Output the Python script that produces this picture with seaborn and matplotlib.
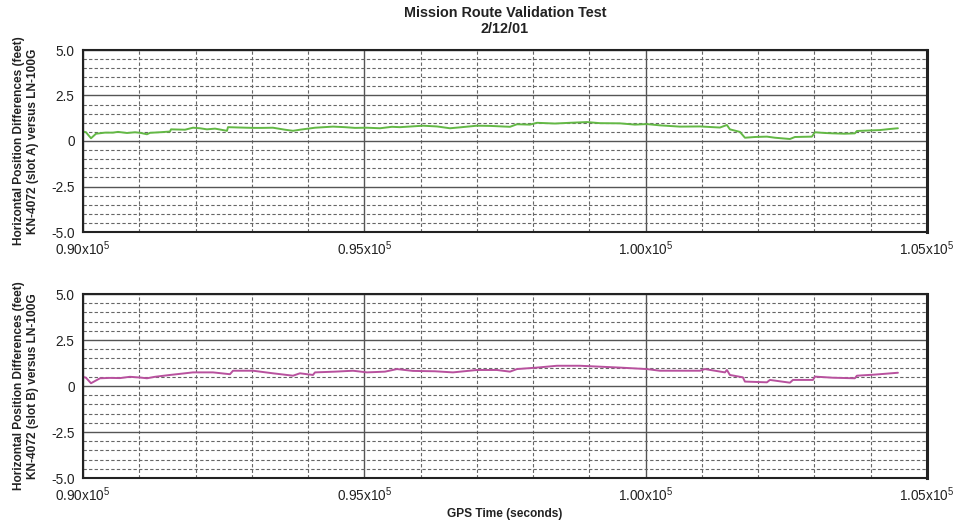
import numpy as np
import pandas as pd
import matplotlib
matplotlib.use("Agg")
import matplotlib.pyplot as plt
from matplotlib.ticker import MultipleLocator, FixedLocator, FuncFormatter
import seaborn as sns

# GPS time (s) and horizontal position difference (ft), KN-4072 slot A vs LN-100G
time_a = [90000, 90053, 90142, 90231, 90391, 90533, 90622, 90782, 90924, 91013,
          91137, 91191, 91368, 91546, 91564, 91813, 91955, 92079, 92203, 92346,
          92559, 92577, 92790, 93021, 93181, 93376, 93590, 93732, 93856, 94123,
          94443, 94656, 94833, 95047, 95278, 95491, 95633, 96042, 96291, 96522,
          96699, 97001, 97232, 97588, 97712, 97943, 98068, 98387, 98654, 98956,
          99187, 99542, 99809, 100022, 100253, 100609, 100964, 101320, 101444, 101497,
          101675, 101764, 101942, 102155, 102297, 102564, 102652, 102954, 103008, 103185,
          103327, 103541, 103718, 103754, 103985, 104163, 104341, 104483]
diff_a = [0.52, 0.48, 0.15, 0.40, 0.46, 0.46, 0.50, 0.44, 0.48, 0.45,
          0.37, 0.45, 0.48, 0.52, 0.64, 0.62, 0.73, 0.70, 0.64, 0.68,
          0.56, 0.76, 0.74, 0.72, 0.72, 0.73, 0.62, 0.56, 0.62, 0.73,
          0.79, 0.76, 0.72, 0.73, 0.70, 0.78, 0.76, 0.84, 0.80, 0.70,
          0.75, 0.84, 0.83, 0.78, 0.92, 0.90, 1.00, 0.96, 1.00, 1.04,
          0.98, 0.97, 0.90, 0.93, 0.86, 0.79, 0.80, 0.74, 0.88, 0.64,
          0.50, 0.18, 0.22, 0.24, 0.18, 0.11, 0.22, 0.24, 0.48, 0.44,
          0.42, 0.40, 0.42, 0.55, 0.58, 0.60, 0.66, 0.70]

# KN-4072 slot B vs LN-100G
time_b = [90000, 90053, 90142, 90302, 90480, 90657, 90835, 91013, 91137, 91279,
          91546, 91724, 91955, 92310, 92612, 92666, 93021, 93376, 93732, 93856,
          94087, 94123, 94478, 94798, 95047, 95367, 95580, 95864, 96255, 96575,
          97001, 97357, 97588, 97712, 98068, 98423, 98832, 99187, 99542, 100022,
          100253, 100964, 101053, 101409, 101444, 101497, 101728, 101764, 102155, 102208,
          102564, 102617, 102972, 103008, 103327, 103718, 103754, 104074, 104483]
diff_b = [0.50, 0.45, 0.15, 0.42, 0.44, 0.43, 0.50, 0.46, 0.42, 0.50,
          0.60, 0.66, 0.74, 0.74, 0.64, 0.83, 0.83, 0.69, 0.56, 0.69,
          0.60, 0.74, 0.78, 0.83, 0.74, 0.78, 0.92, 0.82, 0.80, 0.74,
          0.87, 0.87, 0.78, 0.92, 1.00, 1.10, 1.10, 1.05, 1.00, 0.92,
          0.83, 0.83, 0.92, 0.74, 0.87, 0.60, 0.47, 0.24, 0.20, 0.33,
          0.18, 0.33, 0.33, 0.51, 0.45, 0.42, 0.56, 0.62, 0.72]

x_ticks = [90000, 95000, 100000, 105000]
x_tick_labels = ["0.90", "0.95", "1.00", "1.05"]
y_ticks = [-5.0, -2.5, 0.0, 2.5, 5.0]
y_tick_labels = ["-5.0", "-2.5", "0", "2.5", "5.0"]

title_text = "Mission Route Validation Test\n2/12/01"
ylabel_a = "Horizontal Position Differences (feet)\nKN-4072 (slot A) versus LN-100G"
ylabel_b = "Horizontal Position Differences (feet)\nKN-4072 (slot B) versus LN-100G"
xlabel_text = "GPS Time (seconds)"

sns.set_theme(style="white")
plt.rcParams["font.family"] = ["Liberation Sans", "DejaVu Sans"]
plt.rcParams["mathtext.fontset"] = "custom"
plt.rcParams["mathtext.rm"] = "Liberation Sans"

fig = plt.figure(figsize=(9.61, 5.23), dpi=100)
W, H = 961, 523
left, right = 83, 927
ax_a = fig.add_axes([left / W, 1 - 232 / H, (right - left) / W, (232 - 50) / H])
ax_b = fig.add_axes([left / W, 1 - 478 / H, (right - left) / W, (478 - 294) / H])

df_a = pd.DataFrame({"t": time_a, "d": diff_a})
df_b = pd.DataFrame({"t": time_b, "d": diff_b})

sns.lineplot(data=df_a, x="t", y="d", ax=ax_a, color="#63b845", linewidth=1.4)
sns.lineplot(data=df_b, x="t", y="d", ax=ax_b, color="#b8519e", linewidth=1.4)


def fmt_x(val, pos):
    for t, lab in zip(x_ticks, x_tick_labels):
        if abs(val - t) < 1:
            return r"$\mathregular{%sx10^{5}}$" % lab
    return ""


for ax, ylab in ((ax_a, ylabel_a), (ax_b, ylabel_b)):
    ax.set_xlim(90000, 105000)
    ax.set_ylim(-5.0, 5.0)
    ax.xaxis.set_major_locator(FixedLocator(x_ticks))
    ax.xaxis.set_minor_locator(MultipleLocator(1000))
    ax.xaxis.set_major_formatter(FuncFormatter(fmt_x))
    ax.yaxis.set_major_locator(FixedLocator(y_ticks))
    ax.set_yticklabels(y_tick_labels)
    ax.yaxis.set_minor_locator(MultipleLocator(0.5))
    ax.grid(which="major", color="#555555", linestyle="-", linewidth=1.0)
    ax.grid(which="minor", color="#666666", linestyle=(0, (3, 2)), linewidth=0.8)
    ax.set_axisbelow(True)
    ax.tick_params(which="both", length=0)
    ax.tick_params(axis="x", pad=5.5, labelsize=9.8, labelcolor="#222222")
    ax.tick_params(axis="y", pad=6, labelsize=9.8, labelcolor="#222222")
    for sp in ax.spines.values():
        sp.set_color("#222222")
        sp.set_linewidth(1.5)
        sp.set_visible(True)
    ax.spines["right"].set_linewidth(2.2)
    ax.set_xlabel("")
    ax.set_ylabel(ylab, fontsize=8.6, fontweight="bold", color="#222222",
                  linespacing=1.25)
    ax.yaxis.set_label_coords(-0.052, 0.5)

ax_a.set_title(title_text, fontsize=10.4, fontweight="bold", color="#222222",
               pad=12, linespacing=1.2)
ax_b.set_xlabel(xlabel_text, fontsize=8.6, fontweight="bold", color="#222222")
ax_b.xaxis.set_label_coords(0.5, -0.165)

fig.savefig("out.png", dpi=100, facecolor="white")
